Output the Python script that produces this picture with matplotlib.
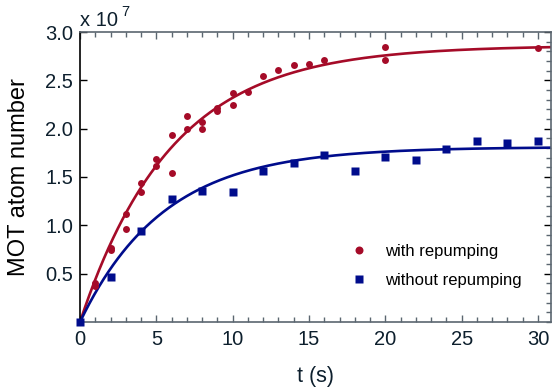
import numpy as np
import matplotlib
matplotlib.use("Agg")
import matplotlib.pyplot as plt

plt.rcParams['font.family'] = ['Liberation Sans', 'DejaVu Sans']

##### dane (atom number in units of 1e7)
t_rep = [0, 1, 1, 2, 2, 3, 3, 4, 4, 5, 5, 6, 6, 7, 7, 8, 8, 9, 9, 10, 10,
         11, 12, 13, 14, 15, 16, 20, 20, 30]
n_rep = [0.0, 0.40, 0.37, 0.77, 0.74, 1.12, 0.96, 1.44, 1.35, 1.69, 1.61,
         1.93, 1.54, 2.13, 2.00, 2.07, 2.00, 2.21, 2.18, 2.37, 2.24,
         2.38, 2.54, 2.61, 2.66, 2.67, 2.71, 2.84, 2.71, 2.83]

t_norep = [0, 2, 4, 6, 8, 10, 12, 14, 16, 18, 20, 22, 24, 26, 28, 30]
n_norep = [0.0, 0.47, 0.94, 1.27, 1.36, 1.35, 1.56, 1.64, 1.73, 1.56,
           1.71, 1.68, 1.79, 1.87, 1.85, 1.87]

# loading fit N(t) = A (1 - exp(-t/tau))
A_rep, tau_rep = 2.86, 6.0
A_norep, tau_norep = 1.81, 5.5

red = '#a50b28'
blue = '#000c8c'
tick_col = '#0d1f2d'
spine_col = '#5b6670'

fig = plt.figure(figsize=(5.52, 3.92), dpi=100)
ax = fig.add_axes([80/552, 70/392, 471/552, 290/392])

tt = np.linspace(0, 31, 400)
ax.plot(tt, A_rep * (1 - np.exp(-tt / tau_rep)), color=red, lw=1.9, zorder=2)
ax.plot(tt, A_norep * (1 - np.exp(-tt / tau_norep)), color=blue, lw=1.9, zorder=2)

ax.plot(t_rep, n_rep, 'o', color=red, ms=5, mec='none', clip_on=False,
        zorder=3, label='with repumping')
ax.plot(t_norep, n_norep, 's', color=blue, ms=5.5, mec='none', clip_on=False,
        zorder=3, label='without repumping')

ax.set_xlim(0, 30.85)
ax.set_ylim(0, 3.0)
ax.set_xticks([0, 5, 10, 15, 20, 25, 30])
ax.set_yticks([0.5, 1.0, 1.5, 2.0, 2.5, 3.0])
ax.set_xticks(np.arange(0, 31, 1), minor=True)
ax.set_yticks(np.arange(0, 3.01, 0.1), minor=True)

ax.tick_params(axis='both', which='both', direction='in', colors=spine_col,
               labelcolor=tick_col, labelsize=14.5, top=True, right=True)
ax.tick_params(which='major', length=5, width=1)
ax.tick_params(which='minor', length=3.5, width=1)
ax.tick_params(axis='y', which='minor', left=False)
ax.tick_params(axis='y', which='major', left=True, colors='black',
               labelcolor=tick_col, pad=5)
ax.tick_params(axis='x', pad=6)

for s in ['top', 'right', 'bottom']:
    ax.spines[s].set_color(spine_col)
    ax.spines[s].set_linewidth(1.2)
ax.spines['left'].set_color('black')
ax.spines['left'].set_linewidth(1.2)

ax.set_xlabel('t (s)', fontsize=15.5, color=tick_col, labelpad=12)
ax.set_ylabel('MOT atom number', fontsize=17, color='black', labelpad=11)

fig.text(80/552, 366/392, 'x 10', fontsize=14.5, color=tick_col, ha='left',
         va='baseline')
fig.text(121/552, 376/392, '7', fontsize=10.5, color=tick_col, ha='left',
         va='baseline')

ax.legend(loc='upper left', bbox_to_anchor=(0.547, 0.32), frameon=False,
          fontsize=12, handlelength=0.8, handletextpad=1.15, labelspacing=0.8,
          markerscale=1.15)

fig.savefig('out.png', dpi=100)
